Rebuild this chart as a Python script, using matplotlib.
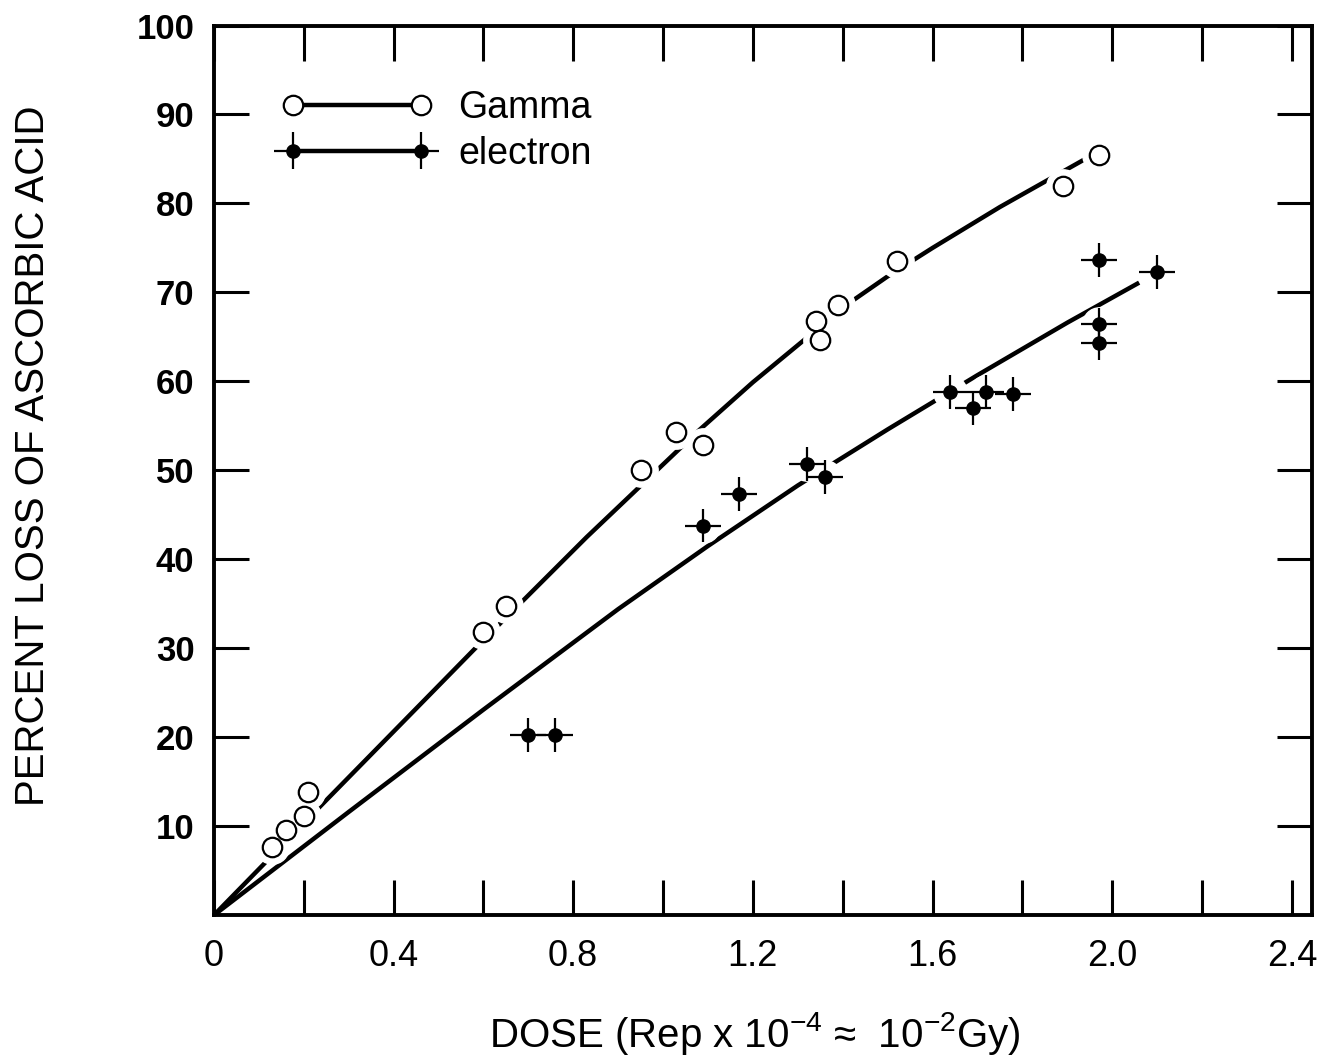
import matplotlib
matplotlib.use('Agg')
import matplotlib.pyplot as plt
from matplotlib import font_manager
from matplotlib.lines import Line2D

# measured points
gamma_x = [0.13, 0.16, 0.20, 0.21, 0.60, 0.65, 0.95, 1.03, 1.09, 1.34, 1.35, 1.39, 1.52, 1.89, 1.97]
gamma_y = [7.7, 9.6, 11.2, 13.8, 31.8, 34.8, 50.0, 54.3, 52.8, 66.8, 64.6, 68.6, 73.5, 82.0, 85.5]

electron_x = [0.70, 0.76, 1.09, 1.17, 1.32, 1.36, 1.64, 1.69, 1.72, 1.78, 1.97, 1.97, 1.97, 2.10]
electron_y = [20.3, 20.3, 43.8, 47.3, 50.7, 49.3, 58.8, 57.0, 58.8, 58.6, 73.6, 66.4, 64.3, 72.3]
electron_xerr = 0.04
electron_yerr = 1.9

# fitted curves as drawn in the figure
gamma_fit_x = [0.0, 0.24, 0.58, 0.83, 1.08, 1.20, 1.32, 1.42, 1.50, 1.60, 1.75, 1.94]
gamma_fit_y = [0.0, 12.4, 29.9, 42.5, 54.5, 59.9, 64.9, 69.0, 71.8, 75.0, 79.6, 85.0]
electron_fit_x = [0.0, 0.30, 0.60, 0.90, 1.10, 1.30, 1.50, 1.70, 1.90, 2.06]
electron_fit_y = [0.0, 11.6, 23.1, 34.4, 41.5, 48.3, 54.6, 60.7, 66.6, 71.1]

xticks = [0.0, 0.2, 0.4, 0.6, 0.8, 1.0, 1.2, 1.4, 1.6, 1.8, 2.0, 2.2, 2.4]
xticklabels = ['0', '', '0.4', '', '0.8', '', '1.2', '', '1.6', '', '2.0', '', '2.4']
yticks = [10, 20, 30, 40, 50, 60, 70, 80, 90, 100]
yticklabels = ['10', '20', '30', '40', '50', '60', '70', '80', '90', '100']

names = {f.name for f in font_manager.fontManager.ttflist}
if 'Liberation Sans Narrow' in names:
    narrow = 'Liberation Sans Narrow'
    lab_scale = 1.15
else:
    narrow = 'Liberation Sans'
    lab_scale = 1.0

plt.rcParams['font.family'] = ['Liberation Sans', 'DejaVu Sans']
plt.rcParams['mathtext.fontset'] = 'custom'
plt.rcParams['mathtext.rm'] = narrow
plt.rcParams['mathtext.default'] = 'regular'

fig = plt.figure(figsize=(13.2, 10.63), dpi=100)
ax = fig.add_axes([0.162, 0.139, 0.832, 0.837])

# curves
ax.plot(gamma_fit_x, gamma_fit_y, color='black', lw=3.2, solid_capstyle='butt', zorder=1)
ax.plot(electron_fit_x, electron_fit_y, color='black', lw=3.2, solid_capstyle='butt', zorder=1)

# white halos to break the lines near the points
ax.plot(gamma_x, gamma_y, 'o', ms=24, color='white', mec='white', zorder=2)
ax.plot(electron_x, electron_y, 'o', ms=24, color='white', mec='white', zorder=2)

ax.plot(gamma_x, gamma_y, 'o', ms=14, mfc='white', mec='black', mew=1.6, zorder=4)
eb = ax.errorbar(electron_x, electron_y, xerr=electron_xerr, yerr=electron_yerr,
                 fmt='o', ms=9.5, color='black', ecolor='black', elinewidth=1.6,
                 capsize=0, zorder=3)

gamma_handle = Line2D([], [], color='black', lw=3.2, marker='o', ms=14,
                      mfc='white', mec='black', mew=1.6)
electron_line = Line2D([], [], color='black', lw=3.2)
ax.legend([gamma_handle, (electron_line, eb)], ['Gamma', 'electron'], loc='upper left',
          bbox_to_anchor=(0.062, 0.927), frameon=False, numpoints=2,
          handlelength=4.0, handletextpad=0.7, labelspacing=0.25,
          borderpad=0, borderaxespad=0, fontsize=27)

ax.set_xlim(0, 2.445)
ax.set_ylim(0, 100)
ax.set_xticks(xticks)
ax.set_xticklabels(xticklabels, fontsize=26)
ax.set_yticks(yticks)
ax.set_yticklabels(yticklabels, fontsize=25, fontweight='bold')

ax.tick_params(direction='in', length=25, width=2.2, top=True, right=True)
ax.tick_params(axis='x', pad=17)
ax.tick_params(axis='y', pad=14)
for s in ax.spines.values():
    s.set_linewidth(2.8)

ax.set_xlabel('DOSE (Rep x 10$^{-4}$ \u2248  10$^{-2}$Gy)', fontsize=29 / lab_scale, family=narrow)
ax.set_ylabel('PERCENT LOSS OF ASCORBIC ACID', fontsize=29 / lab_scale, family=narrow)
ax.xaxis.set_label_coords(0.493, -0.106)
ax.yaxis.set_label_coords(-0.147, 0.517)

plt.savefig('out.png', dpi=100)
